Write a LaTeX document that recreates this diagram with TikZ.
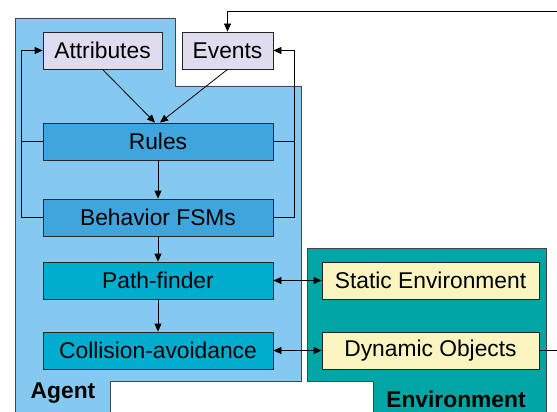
\documentclass[tikz,border=0pt]{standalone}
\usepackage{fontspec}
\setmainfont{Liberation Sans}
\usetikzlibrary{arrows.meta,calc}
\definecolor{agentfill}{RGB}{133,201,240}
\definecolor{rulefill}{RGB}{65,165,221}
\definecolor{pathfill}{RGB}{0,173,206}
\definecolor{envfill}{RGB}{0,166,166}
\definecolor{yelfill}{RGB}{250,245,192}
\definecolor{lavfill}{RGB}{222,220,238}
\definecolor{edgegray}{RGB}{70,70,70}
\tikzset{
  box/.style={draw=black!85, line width=0.8pt, inner sep=0pt, minimum height=37pt,
    font=\fontsize{22.8}{26}\selectfont},
  region/.style={draw=edgegray, line width=0.9pt},
  conn/.style={draw=black, line width=0.8pt},
  arr/.style={conn, -{Triangle[length=8pt,width=7pt]}},
  darr/.style={conn, {Triangle[length=8pt,width=7pt]}-{Triangle[length=8pt,width=7pt]}},
  lbl/.style={font=\fontsize{22.8}{26}\selectfont\bfseries, inner sep=0pt}
}
\begin{document}
\begin{tikzpicture}[x=1pt,y=-1pt]
\useasboundingbox (0,0) rectangle (557,412);
\fill[white] (0,0) rectangle (557,412);
\clip (0,0) rectangle (557,412);
% regions
\filldraw[region, fill=agentfill] (15,420) -- (15,18) -- (175,18) -- (175,86) -- (301,86) -- (301,381) -- (110,381) -- (110,420);
\filldraw[region, fill=envfill] (373,420) -- (373,381) -- (307,381) -- (307,248) -- (546,248) -- (546,420);
\node[lbl] (agentlbl) at (63,393.5) {Agent};
\node[lbl] (envlbl) at (456,399.5) {Environment};
% nodes
\node[box, fill=lavfill, minimum width=119pt] (attr) at (102.5,50.5) {Attributes};
\node[box, fill=lavfill, minimum width=91pt] (events) at (227.5,50.5) {Events};
\node[box, fill=rulefill, minimum width=230pt] (rules) at (158,141.5) {Rules};
\node[box, fill=rulefill, minimum width=230pt] (behav) at (158,217.5) {Behavior FSMs};
\node[box, fill=pathfill, minimum width=230pt] (path) at (158,280.5) {Path-finder};
\node[box, fill=pathfill, minimum width=230pt] (coll) at (158,350.5) {Collision-avoidance};
\node[box, fill=yelfill, minimum width=217pt] (static) at (430.5,280.5) {Static Environment};
\node[box, fill=yelfill, minimum width=217pt] (dyn) at (430.5,350.5) {Dynamic Objects};
% connectors
\draw[arr] (attr.south) -- ($(rules.north)+(-3,0)$);
\draw[arr] (events.south) -- ($(rules.north)+(2,0)$);
\draw[arr] (rules) -- (behav);
\draw[arr] (behav) -- (path);
\draw[arr] (path) -- (coll);
\draw[arr] (behav.west) -- ++(-21,0) |- (attr.west);
\draw[conn] (rules.west) -- ++(-21,0);
\draw[arr] (behav.east) -- ++(21,0) |- (events.east);
\draw[conn] (rules.east) -- ++(21,0);
\draw[darr] (path.east) -- (static.west);
\draw[darr] (coll.east) -- (dyn.west);
\draw[arr] (dyn.east) -- ++(30,0) |- (events.north |- 0,11) -- (events.north);
\end{tikzpicture}
\end{document}
